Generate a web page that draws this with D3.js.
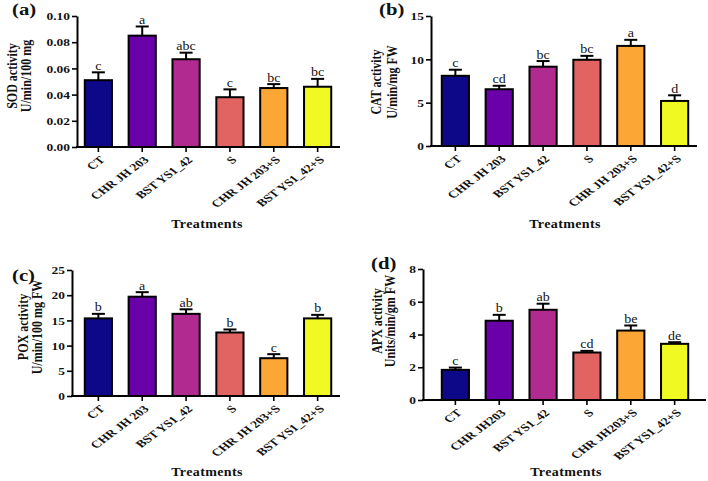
<!DOCTYPE html>
<html>
<head>
<meta charset="utf-8">
<script src="https://cdn.jsdelivr.net/npm/d3@7"></script>
<style>
  html, body { margin: 0; padding: 0; background: #fff; }
  svg { display: block; }
  text { font-family: "Liberation Serif", "Times New Roman", serif; fill: #111; }
</style>
</head>
<body>
<svg id="chart" width="708" height="481"></svg>
<script>
// ---------------- data ----------------
const categoriesABC = ["CT", "CHR JH 203", "BST YS1_42", "S", "CHR JH 203+S", "BST YS1_42+S"];
const categoriesD   = ["CT", "CHR JH203", "BST YS1_42", "S", "CHR JH203+S", "BST YS1_42+S"];
const barColors = ["#0d0887", "#6a00a8", "#b12a90", "#e16462", "#fca636", "#f0f921"];

const sodMean = [0.051, 0.085, 0.067, 0.038, 0.045, 0.046];
const sodErr  = [0.006, 0.007, 0.005, 0.006, 0.003, 0.006];
const sodLetters = ["c", "a", "abc", "c", "bc", "bc"];
const sodTicks = [0, 0.02, 0.04, 0.06, 0.08, 0.10];

const catMean = [8.1, 6.55, 9.15, 9.95, 11.55, 5.2];
const catErr  = [0.7, 0.4, 0.65, 0.45, 0.7, 0.65];
const catLetters = ["c", "cd", "bc", "bc", "a", "d"];
const catTicks = [0, 5, 10, 15];

const poxMean = [15.4, 19.7, 16.3, 12.6, 7.5, 15.4];
const poxErr  = [0.9, 0.9, 0.9, 0.6, 0.8, 0.7];
const poxLetters = ["b", "a", "ab", "b", "c", "b"];
const poxTicks = [0, 5, 10, 15, 20, 25];

const apxMean = [1.84, 4.84, 5.51, 2.9, 4.24, 3.43];
const apxErr  = [0.14, 0.36, 0.37, 0.1, 0.31, 0.1];
const apxLetters = ["c", "b", "ab", "cd", "be", "de"];
const apxTicks = [0, 2, 4, 6, 8];

const panelTags = ["(a)", "(b)", "(c)", "(d)"];
const yTitles = [
  ["SOD activity", "U/min/100 mg"],
  ["CAT activity", "U/min/mg FW"],
  ["POX activity", "U/min/100 mg FW"],
  ["APX activity", "Units/min/gm FW"]
];
const xTitle = "Treatments";

// ---------------- layout ----------------
const S = 1.22;   // horizontal stretch of the original figure's text
const SX = 1.35;  // stretch for rotated category labels
const panels = [
  { cats: categoriesABC, mean: sodMean, err: sodErr, letters: sodLetters, ticks: sodTicks, fmt: d3.format(".2f"),
    left: 77, right: 340, top: 16, bottom: 147, band: [76, 340],
    tag: [12, 15], yt: [12, 26, 76], xt: [207, 224] },
  { cats: categoriesABC, mean: catMean, err: catErr, letters: catLetters, ticks: catTicks, fmt: d3.format("d"),
    left: 431, right: 697, top: 16, bottom: 146, band: [433, 697],
    tag: [379, 15], yt: [376, 392, 82], xt: [565, 224] },
  { cats: categoriesABC, mean: poxMean, err: poxErr, letters: poxLetters, ticks: poxTicks, fmt: d3.format("d"),
    left: 72, right: 340, top: 270, bottom: 396, band: [76, 340],
    tag: [12, 281], yt: [23, 37, 327], xt: [207, 472] },
  { cats: categoriesD, mean: apxMean, err: apxErr, letters: apxLetters, ticks: apxTicks, fmt: d3.format("d"),
    left: 423, right: 706, top: 269, bottom: 400, band: [433, 697],
    tag: [371, 269], yt: [377, 390, 321], xt: [566, 472] }
];

const svg = d3.select("#chart");

panels.forEach((p, pi) => {
  const g = svg.append("g");
  const x = d3.scaleBand().domain(p.cats).range(p.band).paddingInner(0.38).paddingOuter(0.2);
  const y = d3.scaleLinear().domain([0, d3.max(p.ticks)]).range([p.bottom, p.top]);

  const rows = p.cats.map((c, i) => ({ c, m: p.mean[i], e: p.err[i], l: p.letters[i], col: barColors[i] }));

  // error bars (upper half only)
  const eb = g.append("g").attr("stroke", "#000").attr("stroke-width", 2);
  eb.selectAll("line.v").data(rows).join("line")
    .attr("x1", d => x(d.c) + x.bandwidth() / 2).attr("x2", d => x(d.c) + x.bandwidth() / 2)
    .attr("y1", d => y(d.m)).attr("y2", d => y(d.m + d.e));
  eb.selectAll("line.h").data(rows).join("line")
    .attr("x1", d => x(d.c) + x.bandwidth() / 2 - 6.5).attr("x2", d => x(d.c) + x.bandwidth() / 2 + 6.5)
    .attr("y1", d => y(d.m + d.e)).attr("y2", d => y(d.m + d.e));

  // bars
  g.selectAll("rect.bar").data(rows).join("rect")
    .attr("class", "bar")
    .attr("x", d => x(d.c)).attr("width", x.bandwidth())
    .attr("y", d => y(d.m)).attr("height", d => y(0) - y(d.m))
    .attr("fill", d => d.col).attr("stroke", "#000").attr("stroke-width", 2);

  // significance letters
  g.selectAll("text.sig").data(rows).join("text")
    .attr("class", "sig")
    .attr("text-anchor", "middle")
    .attr("font-size", 11.5)
    .attr("transform", d => `translate(${x(d.c) + x.bandwidth() / 2},${y(d.m + d.e) - 2.5}) scale(${S},1)`)
    .text(d => d.l);

  // y axis
  const ya = g.append("g").attr("transform", `translate(${p.left},0)`)
    .call(d3.axisLeft(y).tickValues(p.ticks).tickFormat(p.fmt).tickSize(5).tickSizeOuter(0));
  ya.select(".domain").attr("stroke-width", 2);
  ya.selectAll(".tick line").attr("stroke-width", 1.6);
  ya.selectAll(".tick text")
    .attr("x", null).attr("dy", "0.34em")
    .attr("transform", `translate(-7,0) scale(${S},1)`)
    .attr("font-size", 11).attr("font-weight", "bold").attr("fill", "#111");

  // x axis
  const xa = g.append("g").attr("transform", `translate(0,${p.bottom})`)
    .call(d3.axisBottom(x).tickSize(5).tickSizeOuter(0));
  xa.select(".domain").remove();
  xa.selectAll(".tick line").attr("stroke-width", 1.6);
  xa.selectAll(".tick text")
    .attr("x", null).attr("y", null).attr("dy", "0.35em")
    .attr("text-anchor", "end")
    .attr("transform", `translate(4,11) scale(${SX},1) rotate(-45)`)
    .attr("font-size", 10.2).attr("font-weight", "bold").attr("fill", "#111");
  g.append("line")
    .attr("x1", p.left - 1).attr("x2", p.right)
    .attr("y1", p.bottom).attr("y2", p.bottom)
    .attr("stroke", "#000").attr("stroke-width", 2);

  // y title (two lines)
  yTitles[pi].forEach((t, k) => {
    g.append("text")
      .attr("text-anchor", "middle").attr("dominant-baseline", "central")
      .attr("font-size", 12).attr("font-weight", "bold")
      .attr("transform", `translate(${p.yt[k]},${p.yt[2]}) scale(${S},1) rotate(-90)`)
      .text(t);
  });

  // x title
  g.append("text")
    .attr("text-anchor", "middle")
    .attr("font-size", 11.5).attr("font-weight", "bold").attr("letter-spacing", 0.3)
    .attr("transform", `translate(${p.xt[0]},${p.xt[1] + 4}) scale(${S},1)`)
    .text(xTitle);

  // panel tag
  g.append("text")
    .attr("font-size", 17).attr("font-weight", "bold")
    .attr("transform", `translate(${p.tag[0]},${p.tag[1]}) scale(${S},1)`)
    .text(panelTags[pi]);
});
</script>
</body>
</html>
